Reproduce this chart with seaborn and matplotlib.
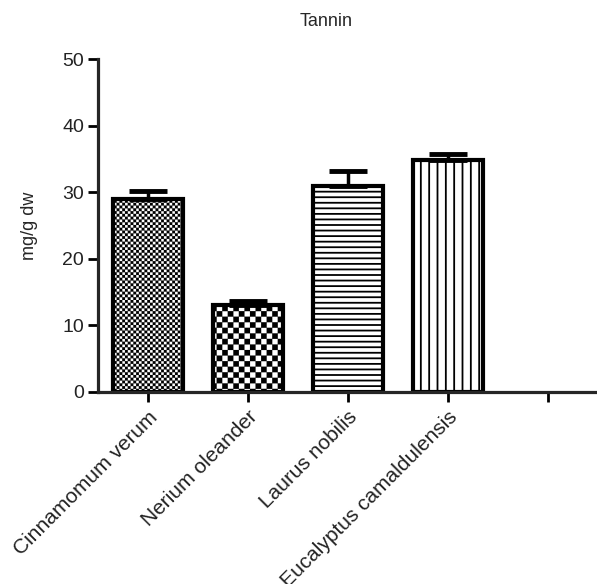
import warnings
import numpy as np
import pandas as pd
import matplotlib
matplotlib.use("Agg")
import matplotlib.pyplot as plt
import matplotlib.hatch as mhatch
from matplotlib.path import Path
import seaborn as sns

warnings.filterwarnings("ignore")

# Data
species = ["Cinnamomum verum", "Nerium oleander", "Laurus nobilis",
           "Eucalyptus camaldulensis"]
tannin = [29.0, 13.0, 30.9, 34.9]
tannin_err = [1.2, 0.7, 2.3, 0.8]
tick_labels = species + [""]
y_ticks = [0, 10, 20, 30, 40, 50]


# ----------------------------
# Checkerboard hatch (matplotlib has none built in)
# ----------------------------
class CheckerHatch(mhatch.HatchPatternBase):
    def __init__(self, hatch, density):
        self.n = hatch.count("c") * density
        self.num_vertices = (self.n * self.n // 2) * 5

    def set_vertices_and_codes(self, vertices, codes):
        s = 1.0 / self.n
        k = 0
        for i in range(self.n):
            for j in range(self.n):
                if (i + j) % 2:
                    continue
                x0, y0 = i * s, j * s
                vertices[k:k + 5] = [[x0, y0], [x0 + s, y0], [x0 + s, y0 + s],
                                     [x0, y0 + s], [x0, y0]]
                codes[k] = Path.MOVETO
                codes[k + 1:k + 4] = Path.LINETO
                codes[k + 4] = Path.CLOSEPOLY
                k += 5


mhatch._hatch_types.append(CheckerHatch)

hatches = ["cccccc", "ccc", "---", "||"]
hatch_lw = [0.1, 0.1, 1.3, 1.3]

sns.set_style("ticks")
plt.rcParams["font.family"] = ["Liberation Sans", "DejaVu Sans"]
plt.rcParams["hatch.linewidth"] = 1.3
plt.rcParams["hatch.color"] = "black"

df = pd.DataFrame({"species": species, "tannin": tannin})

fig = plt.figure(figsize=(5.97, 5.84), dpi=100)
ax = fig.add_axes([98 / 597, 192 / 584, 500 / 597, 333 / 584])

sns.barplot(data=df, x="species", y="tannin", order=species, color="white",
            edgecolor="black", linewidth=3, width=0.7, errorbar=None,
            saturation=1, ax=ax)
for bar, h, lw in zip(ax.patches, hatches, hatch_lw):
    bar.set_hatch(h)
    if hasattr(bar, "set_hatch_linewidth"):
        bar.set_hatch_linewidth(lw)

ax.errorbar(np.arange(len(species)), tannin,
            yerr=[np.zeros(len(species)), tannin_err],
            fmt="none", ecolor="black", elinewidth=2.5, capsize=14,
            capthick=3.5, zorder=5)

ax.set_xlim(-0.5, 4.5)
ax.set_ylim(0, 50)
ax.set_xticks(range(len(tick_labels)))
ax.set_xticklabels(tick_labels, rotation=45, ha="right",
                   rotation_mode="anchor", fontsize=15)
ax.set_yticks(y_ticks)
ax.set_yticklabels([str(t) for t in y_ticks], fontsize=14)
ax.set_xlabel("")
ax.set_ylabel("mg/g dw", fontsize=13)
ax.yaxis.set_label_coords(-0.12, 0.5)

for side in ["top", "right"]:
    ax.spines[side].set_visible(False)
for side in ["left", "bottom"]:
    ax.spines[side].set_linewidth(2.3)
ax.tick_params(axis="both", length=7, width=2, direction="out",
               color="black", labelcolor="#222222")
ax.tick_params(axis="y", pad=3)
ax.tick_params(axis="x", pad=4)

fig.text(326 / 597, 1 - 22 / 584, "Tannin", ha="center", va="center",
         fontsize=13)

plt.savefig("out.png", dpi=100)
plt.close()
